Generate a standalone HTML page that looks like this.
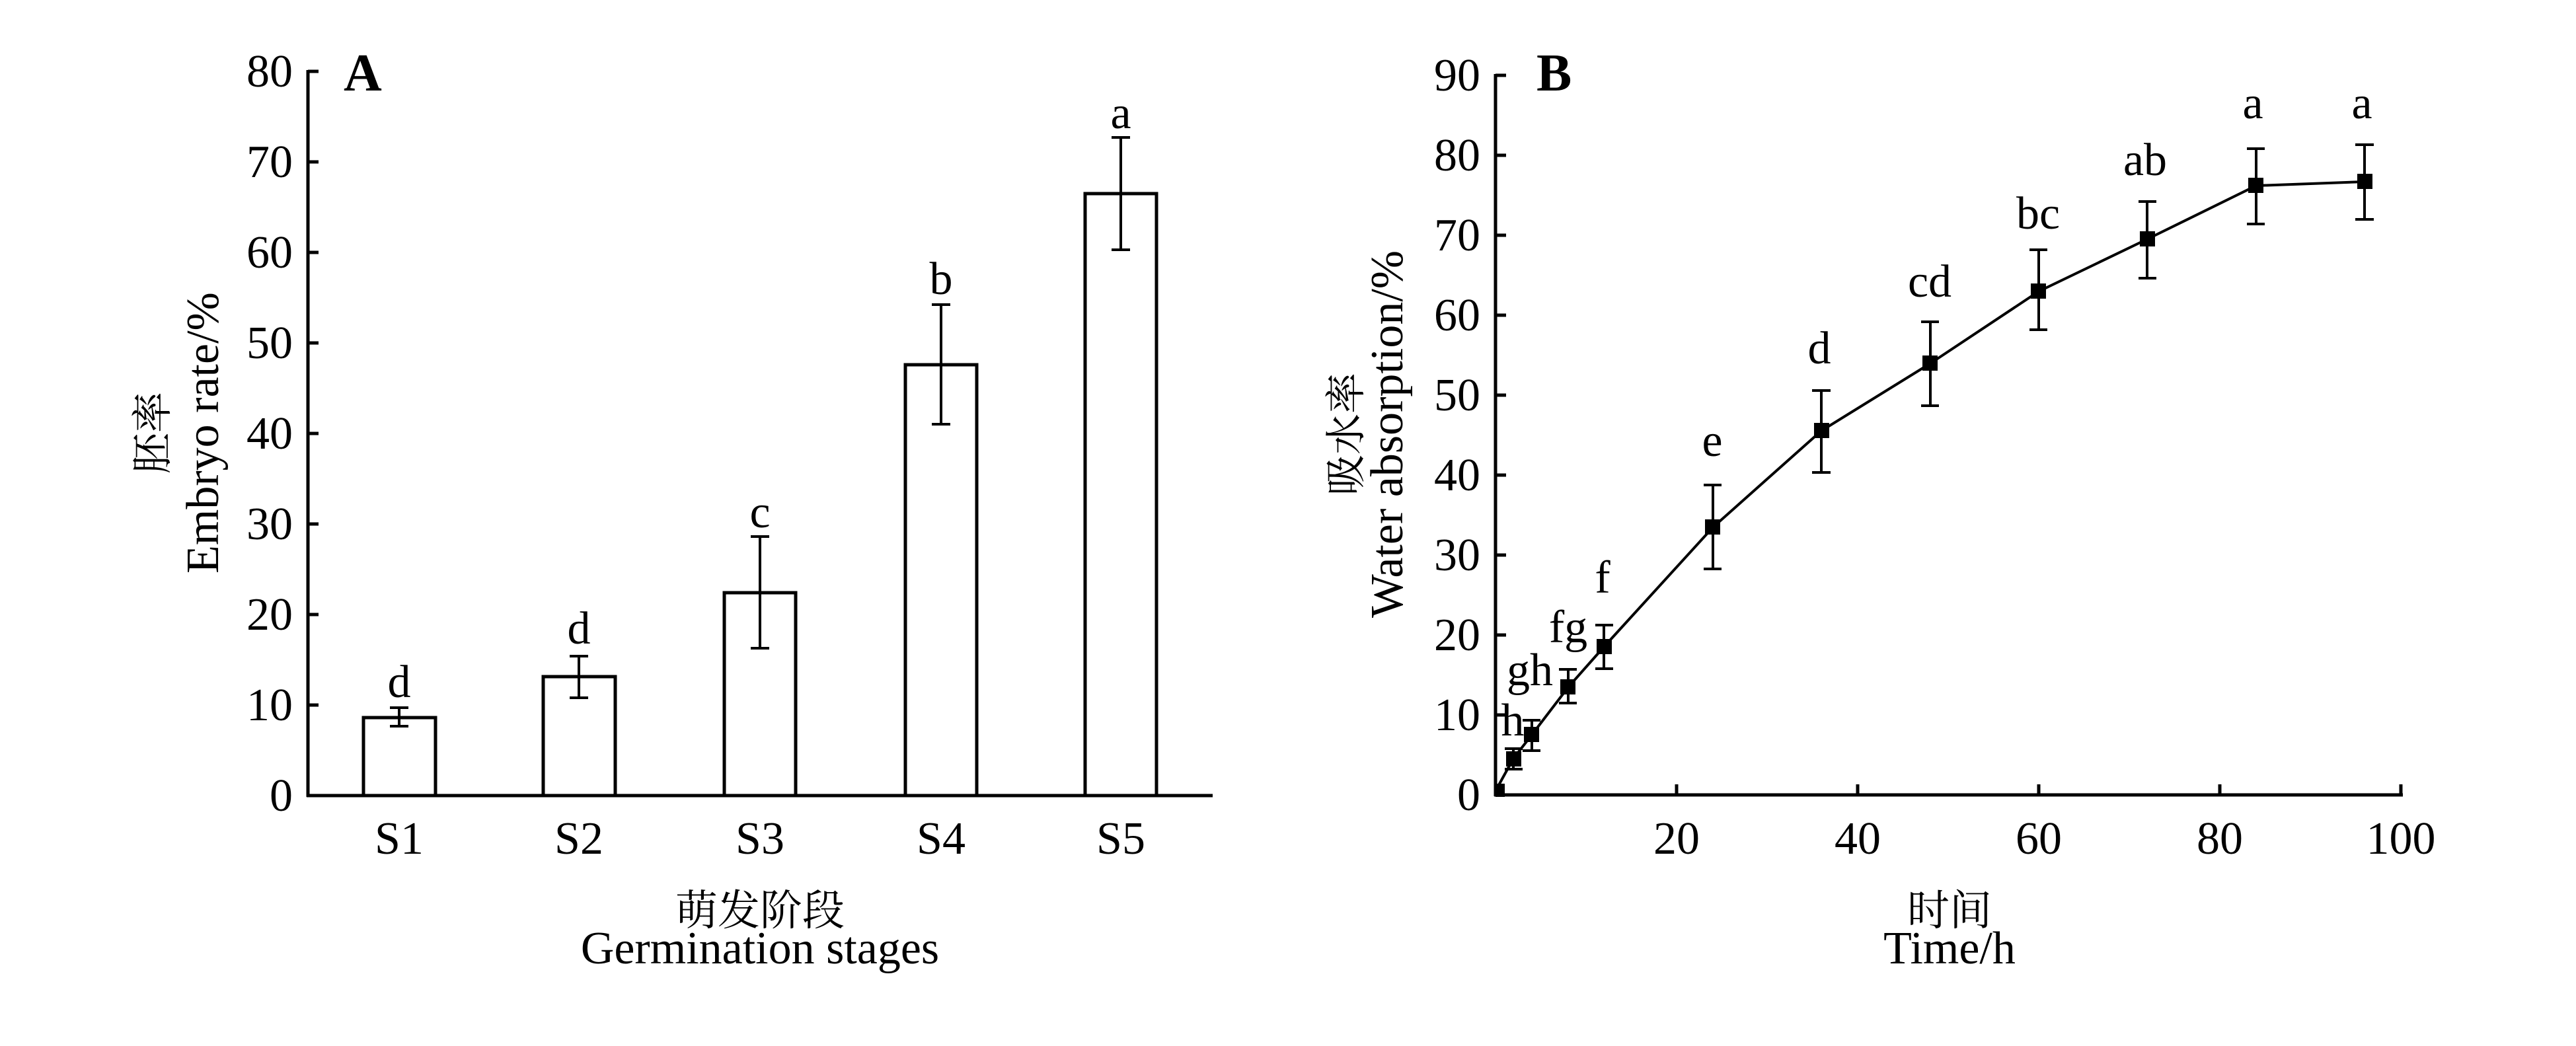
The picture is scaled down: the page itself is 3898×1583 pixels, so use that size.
<!DOCTYPE html>
<html><head><meta charset="utf-8"><style>
html,body{margin:0;padding:0;background:#fff}
svg{display:block}
text{font-family:"Liberation Serif","Noto Serif CJK SC",serif;fill:#000}
</style></head><body>
<svg width="3898" height="1583" viewBox="0 0 3898 1583" xmlns="http://www.w3.org/2000/svg">
<g stroke="#000" stroke-width="5" fill="none">
<line x1="466" y1="106" x2="466" y2="1206"/>
<line x1="464" y1="1204" x2="1835" y2="1204"/>
<line x1="466" y1="108" x2="482" y2="108"/>
<line x1="466" y1="245" x2="482" y2="245"/>
<line x1="466" y1="382" x2="482" y2="382"/>
<line x1="466" y1="519" x2="482" y2="519"/>
<line x1="466" y1="656" x2="482" y2="656"/>
<line x1="466" y1="793" x2="482" y2="793"/>
<line x1="466" y1="930" x2="482" y2="930"/>
<line x1="466" y1="1067" x2="482" y2="1067"/>
<rect x="550" y="1086" width="109" height="118"/>
<rect x="822" y="1024" width="109" height="180"/>
<rect x="1096" y="897" width="108" height="307"/>
<rect x="1370" y="552" width="108" height="652"/>
<rect x="1642" y="293" width="108" height="911"/>
</g>
<g stroke="#000" stroke-width="4" fill="none">
<path d="M604 1099V1071M590 1099H618M590 1071H618"/>
<path d="M876 1056V993M862 1056H890M862 993H890"/>
<path d="M1150 981V812M1136 981H1164M1136 812H1164"/>
<path d="M1424 642V461M1410 642H1438M1410 461H1438"/>
<path d="M1696 378V208M1682 378H1710M1682 208H1710"/>
</g>
<g font-size="70" text-anchor="end">
<text x="443" y="131">80</text>
<text x="443" y="268">70</text>
<text x="443" y="405">60</text>
<text x="443" y="542">50</text>
<text x="443" y="679">40</text>
<text x="443" y="816">30</text>
<text x="443" y="953">20</text>
<text x="443" y="1090">10</text>
<text x="443" y="1227">0</text>
</g>
<g font-size="70" text-anchor="middle">
<text x="604" y="1055">d</text>
<text x="876" y="974">d</text>
<text x="1150" y="798">c</text>
<text x="1424" y="445">b</text>
<text x="1696" y="194">a</text>
<text x="604" y="1292">S1</text>
<text x="876" y="1292">S2</text>
<text x="1150" y="1292">S3</text>
<text x="1424" y="1292">S4</text>
<text x="1696" y="1292">S5</text>
<text x="1150" y="1400" font-size="64">萌发阶段</text>
<text x="1150" y="1458">Germination stages</text>
</g>
<text x="520" y="137" font-size="80" font-weight="bold">A</text>
<g transform="translate(252,655) rotate(-90)"><text x="0" y="0" font-size="62" text-anchor="middle">胚率</text></g>
<g transform="translate(330,655) rotate(-90)"><text x="0" y="0" font-size="70" text-anchor="middle">Embryo rate/%</text></g>

<g stroke="#000" stroke-width="5" fill="none">
<line x1="2263" y1="112" x2="2263" y2="1205"/>
<line x1="2261" y1="1203" x2="3636" y2="1203"/>
<line x1="2263" y1="114" x2="2279" y2="114"/>
<line x1="2263" y1="235" x2="2279" y2="235"/>
<line x1="2263" y1="356" x2="2279" y2="356"/>
<line x1="2263" y1="477" x2="2279" y2="477"/>
<line x1="2263" y1="598" x2="2279" y2="598"/>
<line x1="2263" y1="719" x2="2279" y2="719"/>
<line x1="2263" y1="840" x2="2279" y2="840"/>
<line x1="2263" y1="961" x2="2279" y2="961"/>
<line x1="2263" y1="1082" x2="2279" y2="1082"/>
<line x1="2537" y1="1203" x2="2537" y2="1187"/>
<line x1="2811" y1="1203" x2="2811" y2="1187"/>
<line x1="3085" y1="1203" x2="3085" y2="1187"/>
<line x1="3359" y1="1203" x2="3359" y2="1187"/>
<line x1="3633" y1="1203" x2="3633" y2="1187"/>
</g>
<polyline fill="none" stroke="#000" stroke-width="4" points="2263,1197 2290,1148 2318,1112 2373,1040 2427,979 2592,798 2756,652 2921,550 3085,441 3249,362 3414,281 3578,275"/>
<g stroke="#000" stroke-width="4" fill="none">
<path d="M2290 1164V1133M2277 1164H2304M2277 1133H2304"/>
<path d="M2318 1136V1090M2304 1136H2331M2304 1090H2331"/>
<path d="M2373 1064V1013M2359 1064H2386M2359 1013H2386"/>
<path d="M2427 1012V946M2414 1012H2441M2414 946H2441"/>
<path d="M2592 861V734M2578 861H2605M2578 734H2605"/>
<path d="M2756 715V591M2742 715H2770M2742 591H2770"/>
<path d="M2921 614V487M2907 614H2934M2907 487H2934"/>
<path d="M3085 499V378M3071 499H3098M3071 378H3098"/>
<path d="M3249 421V305M3236 421H3263M3236 305H3263"/>
<path d="M3414 339V225M3400 339H3427M3400 225H3427"/>
<path d="M3578 332V219M3564 332H3592M3564 219H3592"/>
</g>
<g fill="#000">
<rect x="2263" y="1186" width="14" height="20"/>
<rect x="2279" y="1137" width="23" height="23"/>
<rect x="2306" y="1100" width="23" height="23"/>
<rect x="2361" y="1028" width="23" height="23"/>
<rect x="2416" y="967" width="23" height="23"/>
<rect x="2580" y="786" width="23" height="23"/>
<rect x="2745" y="640" width="23" height="23"/>
<rect x="2909" y="538" width="23" height="23"/>
<rect x="3073" y="429" width="23" height="23"/>
<rect x="3238" y="350" width="23" height="23"/>
<rect x="3402" y="269" width="23" height="23"/>
<rect x="3567" y="263" width="23" height="23"/>
</g>
<g font-size="70" text-anchor="end">
<text x="2240" y="137">90</text>
<text x="2240" y="258">80</text>
<text x="2240" y="379">70</text>
<text x="2240" y="500">60</text>
<text x="2240" y="621">50</text>
<text x="2240" y="742">40</text>
<text x="2240" y="863">30</text>
<text x="2240" y="984">20</text>
<text x="2240" y="1105">10</text>
<text x="2240" y="1226">0</text>
</g>
<g font-size="70" text-anchor="middle">
<text x="2537" y="1292">20</text>
<text x="2811" y="1292">40</text>
<text x="3085" y="1292">60</text>
<text x="3359" y="1292">80</text>
<text x="3633" y="1292">100</text>
<text x="2289" y="1113">h</text>
<text x="2315" y="1037">gh</text>
<text x="2373" y="972">fg</text>
<text x="2425" y="897">f</text>
<text x="2591" y="690">e</text>
<text x="2753" y="550">d</text>
<text x="2920" y="449">cd</text>
<text x="3084" y="346">bc</text>
<text x="3246" y="265">ab</text>
<text x="3409" y="179">a</text>
<text x="3574" y="179">a</text>
<text x="2950" y="1400" font-size="64">时间</text>
<text x="2950" y="1458">Time/h</text>
</g>
<text x="2325" y="137" font-size="80" font-weight="bold">B</text>
<g transform="translate(2058,657) rotate(-90)"><text x="0" y="0" font-size="62" text-anchor="middle">吸水率</text></g>
<g transform="translate(2122,657) rotate(-90)"><text x="0" y="0" font-size="70" text-anchor="middle">Water absorption/%</text></g>
</svg>
</body></html>
